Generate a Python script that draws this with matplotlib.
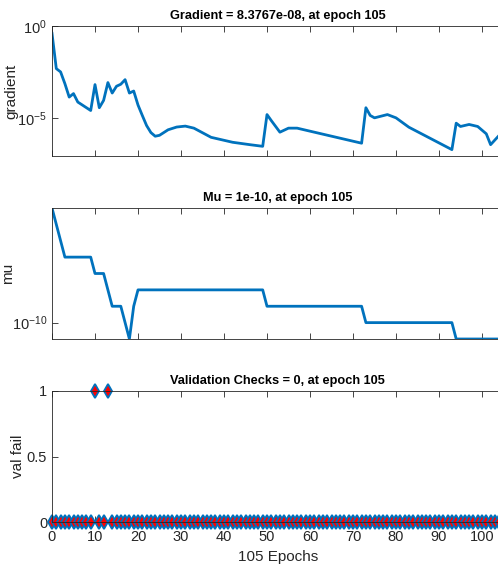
import numpy as np
import matplotlib
matplotlib.use("Agg")
import matplotlib.pyplot as plt

plt.rcParams.update({
    "font.family": ["Liberation Sans", "DejaVu Sans"],
    "mathtext.default": "regular",
    "font.size": 9,
})

BLUE = "#0072BD"
AX_COLOR = "#262626"

# training record, gradient (read at turning points of the curve)
grad_epochs = [0, 1, 2, 3, 4, 5, 6, 9, 10, 11, 12, 13, 14, 15, 16, 17, 18, 19, 20,
               21, 22, 23, 24, 25, 27, 29, 31, 33, 37, 42, 46, 49, 50, 51, 53, 55,
               57, 61, 72, 73, 74, 75, 78, 80, 83, 93, 94, 95, 97, 99, 101, 102,
               104, 105]
grad_values = [3.98e-1, 4.79e-3, 3.16e-3, 7.24e-4, 1.35e-4, 2.09e-4, 7.24e-5, 2.51e-5,
               6.46e-4, 3.55e-5, 8.91e-5, 8.32e-4, 2.24e-4, 5.25e-4, 6.76e-4, 1.20e-3,
               2.24e-4, 2.88e-4, 5.0e-5, 1.35e-5, 3.80e-6, 1.58e-6, 1.0e-6, 1.12e-6,
               2.24e-6, 3.16e-6, 3.55e-6, 2.75e-6, 8.71e-7, 4.68e-7, 3.47e-7, 2.82e-7,
               1.51e-5, 7.08e-6, 1.66e-6, 2.75e-6, 2.75e-6, 1.66e-6, 4.17e-7, 3.55e-5,
               1.35e-5, 1.0e-5, 1.51e-5, 1.0e-5, 3.09e-6, 1.86e-7, 5.13e-6, 3.39e-6,
               4.37e-6, 3.39e-6, 1.35e-6, 3.47e-7, 1.12e-6, 8.3767e-08]

# mu per epoch, as (value, number of epochs) runs
mu_levels = [1e-3, 1e-4, 1e-5, 1e-6, 1e-7, 1e-8, 1e-9, 1e-10, 1e-11, 1e-9, 1e-8,
             1e-9, 1e-10, 1e-11, 1e-10]
mu_counts = [1, 1, 1, 7, 3, 1, 3, 1, 1, 1, 30, 23, 21, 11, 1]

n_epochs = 105
val_fail_one = [10, 13]

epochs = np.arange(n_epochs + 1)
mu = np.repeat(mu_levels, mu_counts)
val_fail = np.zeros(n_epochs + 1)
val_fail[val_fail_one] = 1

W, H = 498, 566
LEFT, RIGHT = 52, 503.5
fig = plt.figure(figsize=(W / 100, H / 100), dpi=100)


def panel(top, bottom):
    return fig.add_axes([LEFT / W, 1 - bottom / H, (RIGHT - LEFT) / W, (bottom - top) / H])


def style(ax, ylabel, label_x, labels=False):
    for s in ax.spines.values():
        s.set_color(AX_COLOR)
        s.set_linewidth(0.6)
    ax.tick_params(which="both", direction="in", top=True, right=True,
                   length=4, width=0.6, color=AX_COLOR, labelcolor=AX_COLOR,
                   labelsize=10.5)
    ax.tick_params(axis="x", pad=6)
    ax.tick_params(which="minor", length=0)
    ax.set_xlim(0, n_epochs)
    ax.set_xticks(np.arange(0, 101, 10))
    if not labels:
        ax.set_xticklabels([])
    ax.set_ylabel(ylabel, fontsize=11, color=AX_COLOR)
    ax.yaxis.set_label_coords((label_x - LEFT) / (RIGHT - LEFT), 0.5)


title_kw = dict(fontsize=9.2, fontweight="bold", pad=5, color="black")

ax1 = panel(26, 156)
ax1.semilogy(grad_epochs, grad_values, color=BLUE, lw=2)
ax1.set_ylim(min(grad_values), 1)
ax1.set_yticks([1e-5, 1])
ax1.set_yticklabels(["$10^{-5}$", "$10^{0}$"])
ax1.set_title(f"Gradient = {grad_values[-1]:.4e}, at epoch {n_epochs}", **title_kw)
style(ax1, "gradient", 18)

ax2 = panel(208, 339)
ax2.semilogy(epochs, mu, color=BLUE, lw=2)
ax2.set_ylim(1e-11, 1e-3)
ax2.set_yticks([1e-10])
ax2.set_yticklabels(["$10^{-10}$"])
ax2.set_title(f"Mu = {mu[-1]:.0e}, at epoch {n_epochs}", **title_kw)
style(ax2, "mu", 15)

ax3 = panel(391, 522)
ax3.plot(epochs, val_fail, linestyle="none", marker="d", markersize=7,
         markerfacecolor="red", markeredgecolor=BLUE, markeredgewidth=1.3,
         clip_on=False)
ax3.set_ylim(0, 1)
ax3.set_yticks([0, 0.5, 1])
ax3.set_yticklabels(["0", "0.5", "1"])
ax3.set_xlabel(f"{n_epochs} Epochs", fontsize=11, color=AX_COLOR, labelpad=4)
ax3.set_title(f"Validation Checks = {int(val_fail[-1])}, at epoch {n_epochs}", **title_kw)
style(ax3, "val fail", 25, labels=True)

fig.savefig("out.png", dpi=100)
